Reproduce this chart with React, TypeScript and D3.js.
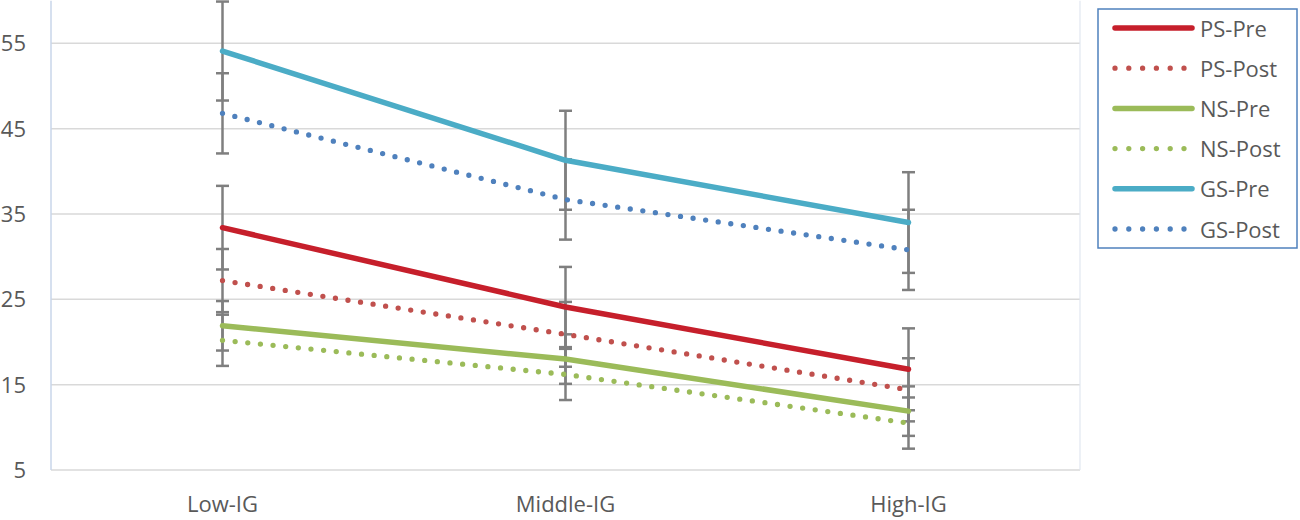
import React, { useEffect, useRef } from 'react';
import * as d3 from 'd3';

const categories = ['Low-IG', 'Middle-IG', 'High-IG'];
const yTicks = [5, 15, 25, 35, 45, 55];

const psPre = [33.4, 24.1, 16.8];
const psPost = [27.2, 20.9, 14.4];
const nsPre = [21.9, 18.0, 11.9];
const nsPost = [20.2, 16.2, 10.5];
const gsPre = [54.1, 41.3, 34.0];
const gsPost = [46.8, 36.7, 30.8];

const psPreErr = [4.9, 4.7, 4.8];
const psPostErr = [3.7, 3.8, 3.7];
const nsPreErr = [2.9, 2.9, 2.9];
const nsPostErr = [3.0, 3.0, 3.0];
const gsPreErr = [5.8, 5.8, 5.9];
const gsPostErr = [4.7, 4.7, 4.7];

type Series = { name: string; values: number[]; err: number[]; color: string; dotted: boolean };

const series: Series[] = [
  { name: 'PS-Pre', values: psPre, err: psPreErr, color: '#C61F2B', dotted: false },
  { name: 'PS-Post', values: psPost, err: psPostErr, color: '#C0504D', dotted: true },
  { name: 'NS-Pre', values: nsPre, err: nsPreErr, color: '#9BBB59', dotted: false },
  { name: 'NS-Post', values: nsPost, err: nsPostErr, color: '#9BBB59', dotted: true },
  { name: 'GS-Pre', values: gsPre, err: gsPreErr, color: '#4BACC6', dotted: false },
  { name: 'GS-Post', values: gsPost, err: gsPostErr, color: '#4F81BD', dotted: true },
];

const W = 1300;
const H = 520;
const FONT = '"Open Sans", sans-serif';
const TEXT = '#595959';

export default function App() {
  const ref = useRef<SVGSVGElement>(null);

  useEffect(() => {
    if (!ref.current) return;
    const svg = d3.select(ref.current);
    svg.selectAll('*').remove();

    const left = 51, right = 1080, top = 0.7, bottom = 470;
    const x = d3.scaleBand<string>().domain(categories).range([left, right]);
    const cx = (c: string) => (x(c) ?? 0) + x.bandwidth() / 2;
    const y = d3.scaleLinear().domain([5, 60]).range([bottom, top]);

    // gridlines
    svg.append('g').selectAll('line').data(yTicks.slice(1)).enter().append('line')
      .attr('x1', left).attr('x2', right).attr('y1', d => y(d)).attr('y2', d => y(d))
      .attr('stroke', '#D9D9D9').attr('stroke-width', 1.5);

    // plot frame
    svg.append('line').attr('x1', left).attr('x2', right).attr('y1', bottom).attr('y2', bottom)
      .attr('stroke', '#D9D9D9').attr('stroke-width', 1.5);
    svg.append('line').attr('x1', left).attr('x2', left).attr('y1', top).attr('y2', bottom)
      .attr('stroke', '#C9D6EA').attr('stroke-width', 1.5);
    svg.append('line').attr('x1', right).attr('x2', right).attr('y1', top).attr('y2', bottom)
      .attr('stroke', '#E1E7F0').attr('stroke-width', 1.2);

    // y tick labels
    svg.append('g').selectAll('text').data(yTicks).enter().append('text')
      .attr('x', 26).attr('y', d => y(d)).attr('dy', '0.36em').attr('text-anchor', 'end')
      .attr('font-family', FONT).attr('font-size', 22).attr('fill', TEXT).text(d => d);

    // x tick labels
    svg.append('g').selectAll('text').data(categories).enter().append('text')
      .attr('x', d => cx(d)).attr('y', 512).attr('text-anchor', 'middle')
      .attr('font-family', FONT).attr('font-size', 22).attr('fill', TEXT).text(d => d);

    // error bars
    const eb = svg.append('g').attr('stroke', '#7F7F7F').attr('stroke-width', 2.5);
    series.forEach(s => {
      s.values.forEach((v, i) => {
        const px = cx(categories[i]);
        const hi = y(v + s.err[i]), lo = y(v - s.err[i]);
        eb.append('line').attr('x1', px).attr('x2', px).attr('y1', hi).attr('y2', lo);
        eb.append('line').attr('x1', px - 6.5).attr('x2', px + 6.5).attr('y1', hi).attr('y2', hi);
        eb.append('line').attr('x1', px - 6.5).attr('x2', px + 6.5).attr('y1', lo).attr('y2', lo);
      });
    });

    // series lines
    const line = d3.line<number>().x((_, i) => cx(categories[i])).y(d => y(d));
    series.forEach(s => {
      svg.append('path').attr('d', line(s.values)).attr('fill', 'none')
        .attr('stroke', s.color)
        .attr('stroke-width', s.dotted ? 5.3 : 5.5)
        .attr('stroke-linecap', 'round').attr('stroke-linejoin', 'round')
        .attr('stroke-dasharray', s.dotted ? '0 12.7' : null);
    });

    // legend
    const lg = svg.append('g');
    lg.append('rect').attr('x', 1098).attr('y', 9).attr('width', 199).attr('height', 239)
      .attr('fill', '#fff').attr('stroke', '#4F81BD').attr('stroke-width', 1.5);
    series.forEach((s, i) => {
      const ly = 28 + i * 40.2;
      lg.append('line').attr('x1', 1115).attr('x2', s.dotted ? 1186 : 1192).attr('y1', ly).attr('y2', ly)
        .attr('stroke', s.color).attr('stroke-width', s.dotted ? 5.3 : 5.5)
        .attr('stroke-linecap', 'round')
        .attr('stroke-dasharray', s.dotted ? '0 13.8' : null);
      lg.append('text').attr('x', 1200).attr('y', ly + 8.5)
        .attr('font-family', FONT).attr('font-size', 22).attr('fill', TEXT).text(s.name);
    });
  }, []);

  return (
    <svg ref={ref} width={W} height={H}
      style={{ position: 'absolute', left: 0, top: 0, background: '#fff', display: 'block' }} />
  );
}
